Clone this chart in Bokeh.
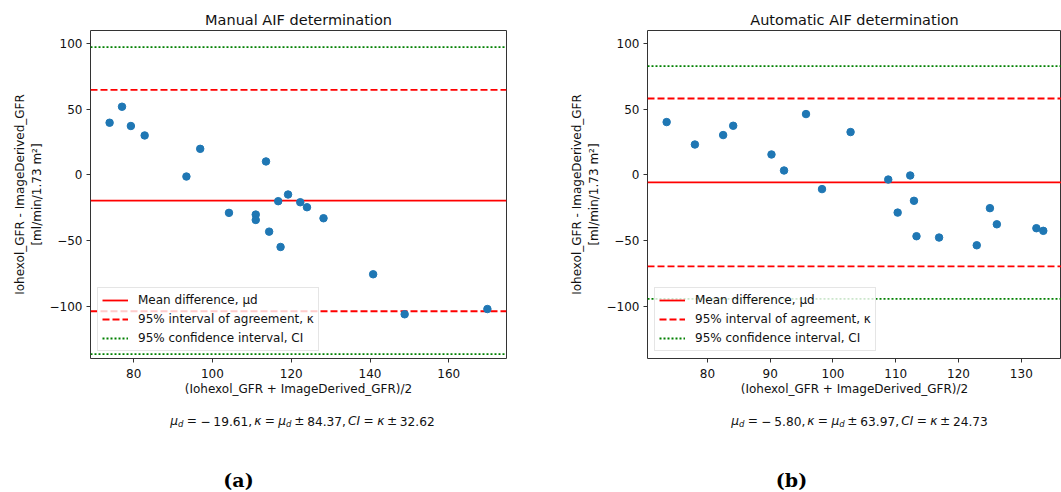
from bokeh.plotting import figure
from bokeh.layouts import row, column
from bokeh.models import Range1d, FixedTicker, Legend, LegendItem
from bokeh.core.properties import value
from bokeh.embed import file_html
from bokeh.resources import INLINE

# ---------------- data ----------------
manual_mean = [73.9, 77.05, 79.3, 82.8, 93.4, 96.9, 104.2, 111.0, 111.0, 113.6,
               114.4, 116.7, 117.3, 119.2, 122.3, 124.0, 128.2, 140.8, 148.8, 169.8]
manual_diff = [39.7, 51.9, 37.2, 30.0, -1.3, 19.8, -29.0, -30.3, -34.4, 10.2,
               -43.3, -20.1, -55.0, -15.0, -20.9, -24.7, -33.1, -75.8, -106.3, -102.3]

auto_mean = [73.5, 78.0, 82.5, 84.1, 90.2, 92.2, 95.7, 98.25, 102.8, 108.8,
             110.3, 112.3, 112.9, 113.3, 116.9, 122.9, 125.0, 126.1, 132.4, 133.5]
auto_diff = [40.2, 23.1, 30.3, 37.4, 15.5, 3.3, 46.3, -10.9, 32.6, -3.6,
             -28.8, -0.5, -19.8, -46.8, -47.8, -53.7, -25.4, -37.7, -40.7, -42.7]

manual_stats = [-19.61, 84.37, 32.62]   # mu_d, kappa half-width, CI half-width
auto_stats = [-5.80, 63.97, 24.73]

titles = ["Manual AIF determination", "Automatic AIF determination"]
captions = ["(a)", "(b)"]
x_ticks_manual = [80, 100, 120, 140, 160]
x_ticks_auto = [80, 90, 100, 110, 120, 130]
y_ticks = [-100, -50, 0, 50, 100]
y_tick_labels = ["\u2212100", "\u221250", "0", "50", "100"]
x_label = "(Iohexol_GFR + ImageDerived_GFR)/2"
y_label = "Iohexol_GFR - ImageDerived_GFR\n[ml/min/1.73 m\u00b2]"
legend_labels = ["Mean difference, \u03bcd", "95% interval of agreement, \u03ba",
                 "95% confidence interval, CI"]

# ---------------- styling ----------------
FONT = "DejaVu Sans"
DOT = "#1f77b4"
RED = "#ff0000"
GREEN = "#008000"
FRAME = "#333333"
TXT = "#111111"
PH = 406          # height of the chart figure
SH = 86           # height of the text strip below it
Y_RANGE = (-140, 110)

W = {c: 0.636 for c in "0123456789"}
W.update({'.': 0.318, ',': 0.318, ' ': 0.318, '=': 0.838, '\u2212': 0.838, '\u00b1': 0.838,
          '\u03bc': 0.636, '\u03ba': 0.579, 'C': 0.698, 'I': 0.295, 'd': 0.635})


def seg_width(s, size):
    return sum(W.get(c, 0.6) for c in s) * size


def make_panel(mean, diff, stats, xr, xticks, title, width, bl, br):
    md, loa, ci = stats
    p = figure(width=width, height=PH, x_range=Range1d(*xr), y_range=Range1d(*Y_RANGE),
               output_backend="svg", toolbar_location=None, title=title,
               min_border_left=bl, min_border_right=br, min_border_top=30, min_border_bottom=48)
    p.grid.visible = False
    p.background_fill_color = "white"
    p.border_fill_color = "white"
    p.outline_line_color = FRAME
    p.outline_line_width = 1

    p.title.align = "center"
    p.title.text_font = FONT
    p.title.text_font_size = "14.5px"
    p.title.text_font_style = "normal"
    p.title.text_color = TXT
    p.title.standoff = 6

    for ax in (p.xaxis, p.yaxis):
        ax.axis_line_color = None
        ax.major_tick_out = 4
        ax.major_tick_in = 0
        ax.minor_tick_line_color = None
        ax.major_tick_line_color = FRAME
        ax.major_label_text_font = FONT
        ax.major_label_text_font_size = "12px"
        ax.major_label_text_color = TXT
        ax.major_label_standoff = 4
        ax.axis_label_text_font = FONT
        ax.axis_label_text_font_size = "12px"
        ax.axis_label_text_font_style = "normal"
        ax.axis_label_text_color = TXT
    p.xaxis.major_label_standoff = 6
    p.xaxis.ticker = FixedTicker(ticks=xticks)
    p.yaxis.ticker = FixedTicker(ticks=y_ticks)
    p.yaxis.major_label_overrides = {float(k): v for k, v in zip(y_ticks, y_tick_labels)}
    p.xaxis.axis_label = x_label
    p.xaxis.axis_label_standoff = 1
    p.yaxis.axis_label = y_label
    p.yaxis.axis_label_standoff = 3

    xs = [xr[0], xr[1]]
    r_mean = p.line(xs, [md, md], line_color=RED, line_width=1.8)
    r_up = p.line(xs, [md + loa, md + loa], line_color=RED, line_width=1.8, line_dash="7 3")
    p.line(xs, [md - loa, md - loa], line_color=RED, line_width=1.8, line_dash="7 3")
    r_ci = p.line(xs, [md + loa + ci, md + loa + ci], line_color=GREEN, line_width=1.8, line_dash="2 2")
    p.line(xs, [md - loa - ci, md - loa - ci], line_color=GREEN, line_width=1.8, line_dash="2 2")

    p.scatter(mean, diff, size=7.5, fill_color=DOT, line_color=DOT)

    legend = Legend(items=[LegendItem(label=legend_labels[0], renderers=[r_mean]),
                           LegendItem(label=legend_labels[1], renderers=[r_up]),
                           LegendItem(label=legend_labels[2], renderers=[r_ci])],
                    location="bottom_left", margin=7, padding=4, spacing=3,
                    glyph_width=26, glyph_height=16, label_height=16, label_standoff=10,
                    label_text_font=FONT, label_text_font_size="12px", label_text_color=TXT,
                    border_line_color="#cccccc", border_line_width=1,
                    background_fill_color="white", background_fill_alpha=0.8)
    p.add_layout(legend)
    return p


def make_strip(width, bl, br, stats, cx, caption, cap_x, size=12.2):
    """Text strip under a chart; its frame lines up with the chart frame, 1 unit = 1 px."""
    md, loa, ci = stats
    fw = width - bl - br
    s = figure(width=width, height=SH, x_range=Range1d(0, fw), y_range=Range1d(SH, 0),
               output_backend="svg", toolbar_location=None, x_axis_type=None, y_axis_type=None,
               min_border_left=bl, min_border_right=br, min_border_top=0, min_border_bottom=0)
    s.grid.visible = False
    s.outline_line_color = None
    s.background_fill_color = "white"
    s.border_fill_color = "white"

    sign = "\u2212" if md < 0 else ""
    parts = [("\u03bc", "i"), ("d", "s"), (0.278, "sp"), ("=", "n"), (0.278, "sp"),
             (sign, "n"), (0.222, "sp"), (f"{abs(md):.2f}", "n"), (",", "n"), (0.17, "sp"),
             ("\u03ba", "i"), (0.278, "sp"), ("=", "n"), (0.278, "sp"),
             ("\u03bc", "i"), ("d", "s"), (0.222, "sp"), ("\u00b1", "n"), (0.222, "sp"),
             (f"{loa:.2f}", "n"), (",", "n"), (0.17, "sp"),
             ("CI", "i"), (0.278, "sp"), ("=", "n"), (0.278, "sp"),
             ("\u03ba", "i"), (0.222, "sp"), ("\u00b1", "n"), (0.222, "sp"),
             (f"{ci:.2f}", "n")]
    sub = 0.7
    total = 0.0
    for t, k in parts:
        if k == "sp":
            total += t * size
        else:
            total += seg_width(t, size * sub if k == "s" else size)
    x = cx - total / 2
    base = 14.7
    for t, k in parts:
        if k == "sp":
            x += t * size
            continue
        fs = size * sub if k == "s" else size
        s.text(x=[x], y=[base + (2.6 if k == "s" else 0)], text=[t],
               text_font=value(FONT), text_font_size=value(f"{fs:.1f}px"),
               text_font_style=value("italic" if k in ("i", "s") else "normal"),
               text_align=value("left"), text_baseline=value("alphabetic"),
               text_color=TXT)
        x += seg_width(t, fs)

    s.text(x=[cap_x], y=[73], text=[caption], text_font=value("DejaVu Serif"),
           text_font_size=value("19px"), text_font_style=value("bold"),
           text_align=value("center"), text_baseline=value("alphabetic"), text_color="#000000")
    return s


p1 = make_panel(manual_mean, manual_diff, manual_stats, (69.05, 174.65), x_ticks_manual,
                titles[0], 538, 90, 32)
s1 = make_strip(538, 90, 32, manual_stats, 212, captions[0], 148)
p2 = make_panel(auto_mean, auto_diff, auto_stats, (70.45, 136.4), x_ticks_auto,
                titles[1], 523, 109, 0)
s2 = make_strip(523, 109, 0, auto_stats, 212, captions[1], 144)

layout = row(column(p1, s1), column(p2, s2))
open("out.html", "w").write(file_html(layout, INLINE))
